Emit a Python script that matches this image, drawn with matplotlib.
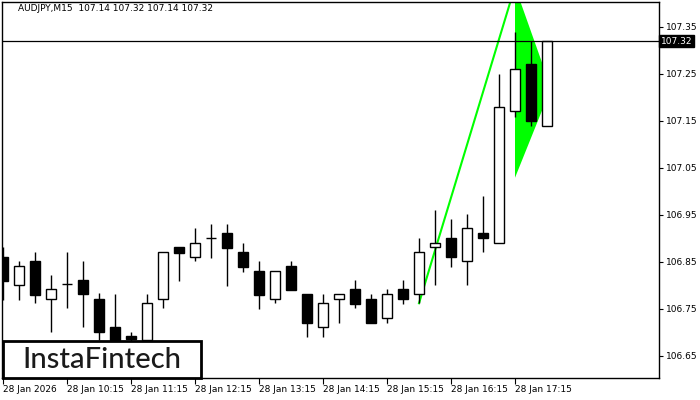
import numpy as np
import matplotlib.pyplot as plt
from matplotlib.patches import Rectangle

# AUDJPY M15 candles, 28 Jan 2026 09:15 .. 17:45
opens = [106.861, 106.801, 106.852, 106.771, 106.803, 106.812, 106.771, 106.711, 106.693,
         106.683, 106.771, 106.881, 106.860, 106.900, 106.911, 106.871, 106.831, 106.771,
         106.841, 106.781, 106.711, 106.771, 106.792, 106.771, 106.730, 106.792, 106.781,
         106.881, 106.900, 106.851, 106.911, 106.890, 107.171, 107.271, 107.14]
highs = [106.882, 106.852, 106.872, 106.822, 106.871, 106.852, 106.783, 106.782, 106.701,
         106.782, 106.871, 106.881, 106.922, 106.931, 106.931, 106.891, 106.852, 106.831,
         106.852, 106.781, 106.781, 106.781, 106.812, 106.781, 106.792, 106.812, 106.900,
         106.961, 106.941, 106.951, 106.990, 107.250, 107.339, 107.319, 107.32]
lows = [106.769, 106.769, 106.762, 106.700, 106.751, 106.711, 106.684, 106.670, 106.670,
        106.670, 106.751, 106.810, 106.851, 106.859, 106.799, 106.829, 106.750, 106.762,
        106.790, 106.691, 106.691, 106.721, 106.751, 106.721, 106.721, 106.761, 106.762,
        106.800, 106.840, 106.800, 106.871, 106.890, 107.159, 107.140, 107.14]
closes = [106.810, 106.841, 106.780, 106.792, 106.803, 106.781, 106.700, 106.684, 106.685,
          106.762, 106.871, 106.870, 106.890, 106.900, 106.880, 106.840, 106.780, 106.831,
          106.790, 106.721, 106.762, 106.781, 106.761, 106.721, 106.781, 106.771, 106.871,
          106.890, 106.860, 106.922, 106.900, 107.179, 107.260, 107.149, 107.32]

tick_idx = [0, 4, 8, 12, 16, 20, 24, 28, 32]
tick_labels = ["28 Jan 2026", "28 Jan 10:15", "28 Jan 11:15", "28 Jan 12:15", "28 Jan 13:15",
               "28 Jan 14:15", "28 Jan 15:15", "28 Jan 16:15", "28 Jan 17:15"]
price_ticks = [106.65, 106.75, 106.85, 106.95, 107.05, 107.15, 107.25, 107.35]
last_price = 107.32

# bullish pennant: flagpole + triangle (index, price)
pole_x = [26, 32]
pole_y = [106.762, 107.436]
pennant_x = [32, 33.7, 33.7, 32]
pennant_y = [107.436, 107.273, 107.173, 107.029]

opens = np.array(opens); closes = np.array(closes)
highs = np.array(highs); lows = np.array(lows)
idx = np.arange(len(opens))

plt.rcParams['font.family'] = 'DejaVu Sans'
fig = plt.figure(figsize=(7, 4), dpi=100)
ax = fig.add_axes([2/700, 22/400, 657/700, 376/400])

ax.fill(pennant_x, pennant_y, color='#00ff00', zorder=1, lw=0)
ax.plot(pole_x, pole_y, color='#00ff00', lw=1.5, zorder=1)

ax.vlines(idx, lows, highs, color='black', lw=1, zorder=2)
up = closes >= opens
ax.bar(idx[up], closes[up] - opens[up], bottom=opens[up], width=0.62,
       color='white', edgecolor='black', lw=1, zorder=3)
ax.bar(idx[~up], opens[~up] - closes[~up], bottom=closes[~up], width=0.62,
       color='black', edgecolor='black', lw=1, zorder=3)

ax.axhline(last_price, color='black', lw=0.9, zorder=4)

ax.set_xlim(-0.0625, 41)
ax.set_ylim(106.603, 107.403)

ax.set_xticks(tick_idx)
ax.set_xticklabels(tick_labels, fontsize=6.5, ha='left')
ax.tick_params(axis='x', length=4, width=0.8, pad=1)
ax.yaxis.tick_right()
ax.set_yticks(price_ticks)
ax.set_yticklabels(["%.2f" % p for p in price_ticks], fontsize=6.5)
ax.tick_params(axis='y', length=3, width=0.8, pad=2)
for s in ax.spines.values():
    s.set_linewidth(1)

ax.text(1.003, last_price, "%.2f" % last_price, transform=ax.get_yaxis_transform(),
        fontsize=6.5, color='white', va='center', ha='left',
        bbox=dict(boxstyle='square,pad=0.2', fc='black', ec='black'), clip_on=False)

ax.text(0.025, 0.995, "AUDJPY,M15  107.14 107.32 107.14 107.32", transform=ax.transAxes,
        fontsize=6.5, va='top', ha='left')

# logo box
fig.patches.append(Rectangle((3/700, 22/400), 198/700, 37/400, transform=fig.transFigure,
                             fc='white', ec='black', lw=2, zorder=10))
fig.text(102/700, 40/400, "InstaFintech", fontsize=21, family='Lato', weight='medium',
         ha='center', va='center', color='#1a1a1a', zorder=11)

fig.savefig("out.png", dpi=100)
